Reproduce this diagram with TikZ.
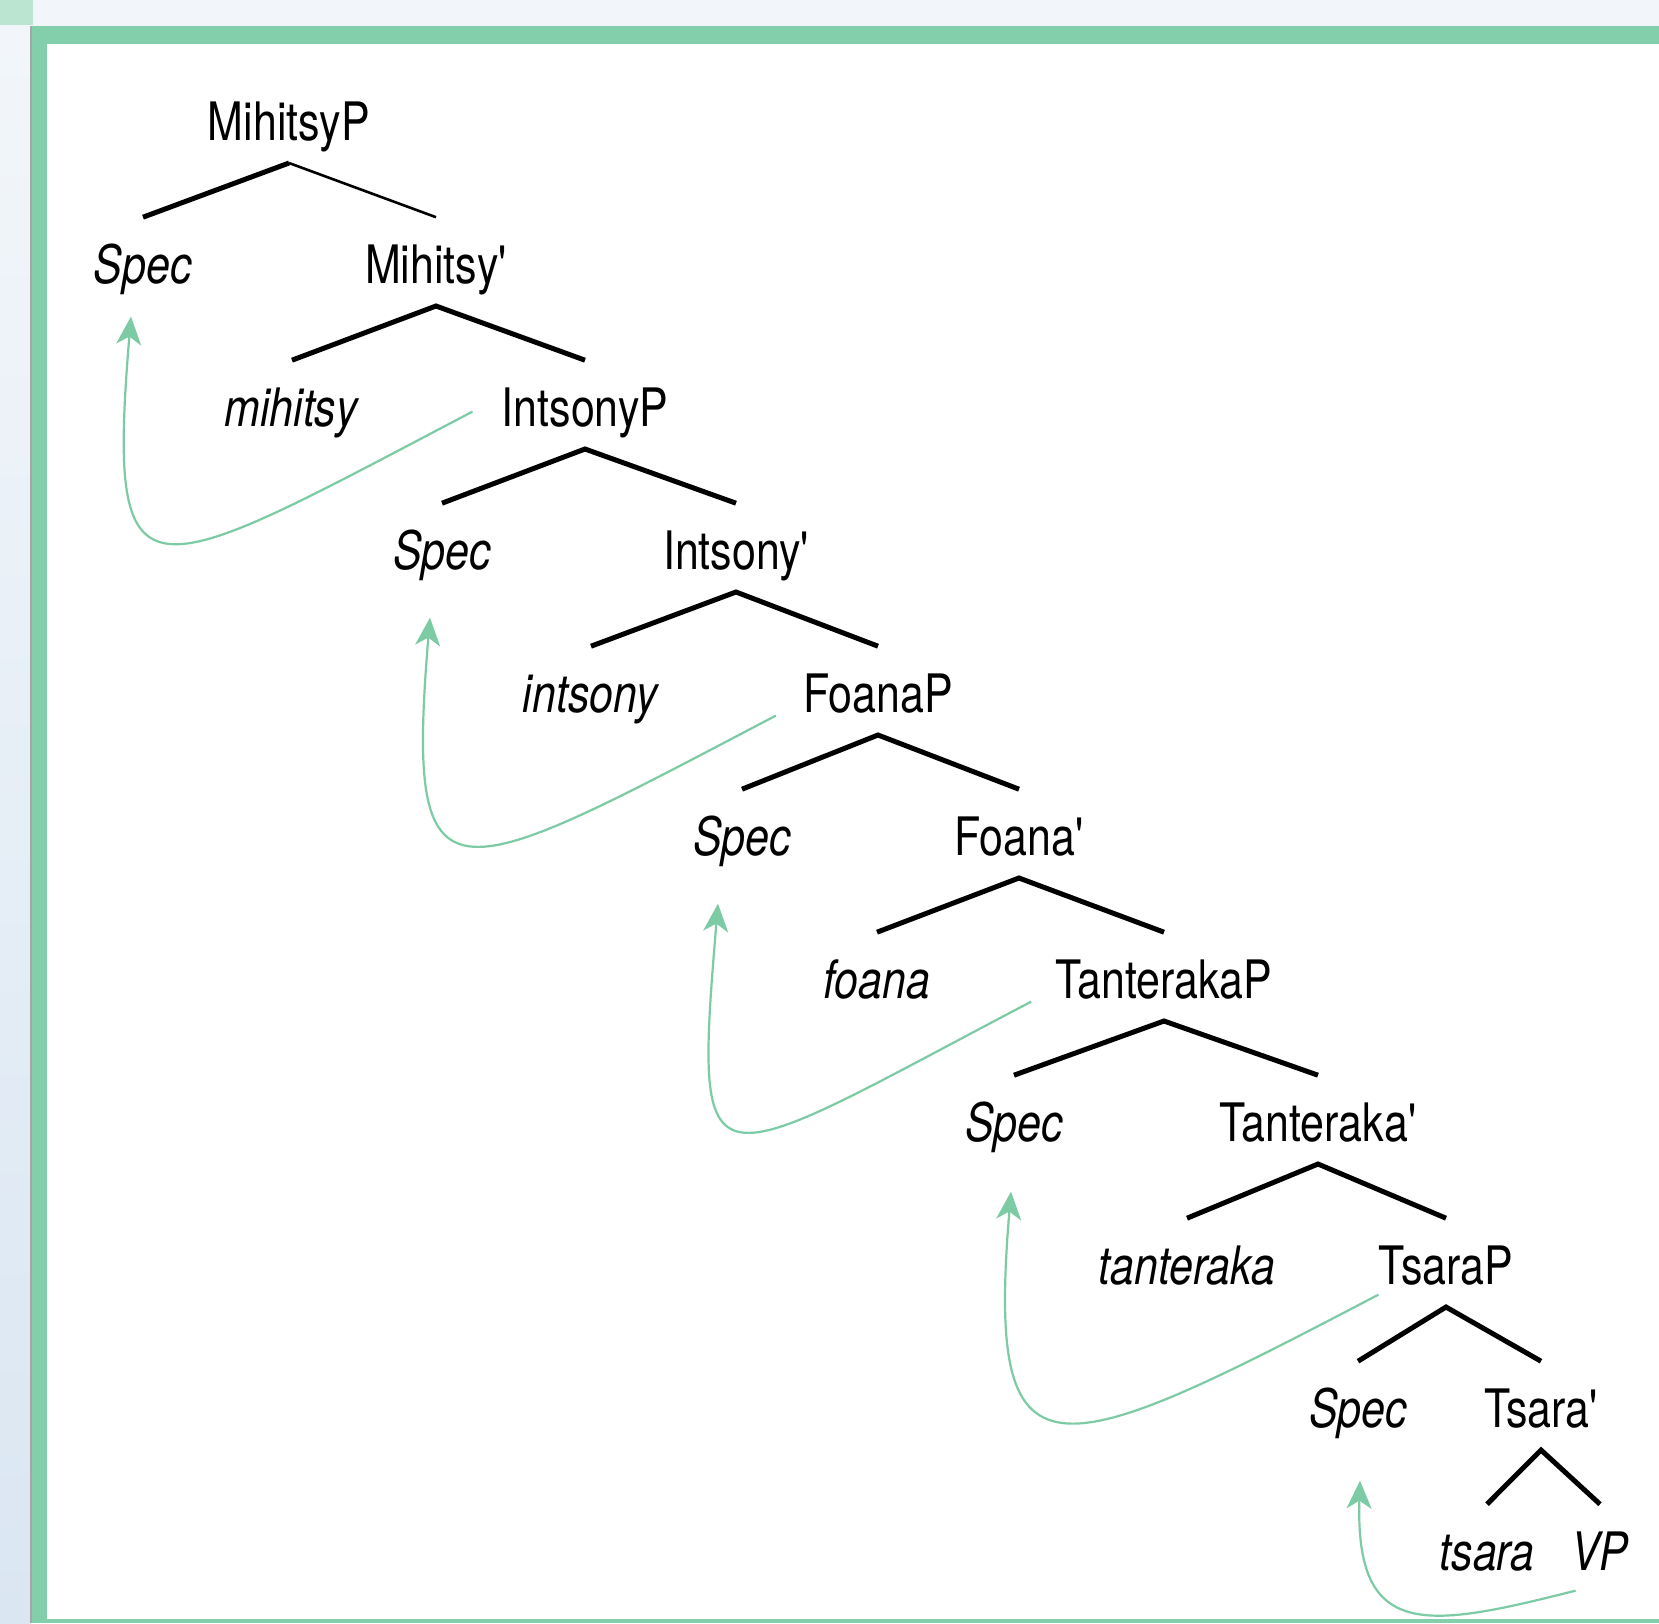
\documentclass[tikz,border=0pt]{standalone}
\usepackage{fontspec}
\usepackage{tikz}
\usetikzlibrary{arrows.meta}
\newfontfamily\treefont{TeX Gyre Heros}[FakeStretch=0.81]
\definecolor{framegreen}{HTML}{84CFAB}
\definecolor{movegreen}{HTML}{7DCBA5}
\definecolor{pagegrey}{HTML}{F2F6FA}
\definecolor{pageblue}{HTML}{DAE6F2}
\tikzset{
  label/.style={font=\treefont\fontsize{26.5pt}{30pt}\selectfont,
    text height=29pt,text depth=7pt,inner xsep=0pt,inner ysep=4pt},
  branch/.style={line width=2.5pt},
  move/.style={movegreen,line width=1.1pt,-{Stealth[length=14pt,width=12.5pt,inset=4pt]}}
}

\begin{document}
\begin{tikzpicture}[node distance=71.5pt]
      \useasboundingbox (0,0) rectangle (829.5pt,-811.5pt);
      \fill[pagegrey] (0,0) rectangle (829.5pt,-13pt);
      \shade[top color=pagegrey,bottom color=pageblue] (0,-13pt) rectangle (15.5pt,-811.5pt);
      \fill[framegreen!55] (0,0) rectangle (16.5pt,-12.5pt);
      \fill[framegreen] (15.5pt,-13pt) rectangle (829.5pt,-22pt);
      \fill[framegreen] (15.5pt,-13pt) rectangle (23.5pt,-811.5pt);
      \fill[framegreen] (23.5pt,-809.5pt) rectangle (829.5pt,-811.5pt);
      \fill[white] (23.5pt,-22pt) rectangle (829.5pt,-809.5pt);
      \draw[black!35,line width=0.6pt] (15.5pt,-13pt) -- (15.5pt,-811.5pt);

      \node [label] at (144.5pt,-59.3pt) (1) {MihitsyP};
      \node [label,below of=1,xshift=-73pt] (2) {\textit{Spec}};
      \node [label,below of=1,xshift=73.5pt] (3) {Mihitsy'};
      \node [label,below of=3,xshift=-72pt] (4) {\textit{mihitsy}};
      \node [label,below of=3,xshift=74.5pt] (5) {IntsonyP};
      \node [label,below of=5,xshift=-71.5pt] (6) {\textit{Spec}};
      \node [label,below of=5,xshift=75.5pt] (7) {Intsony'};
      \node [label,below of=7,xshift=-72.5pt] (8) {\textit{intsony}};
      \node [label,below of=7,xshift=71pt] (9) {FoanaP};
      \node [label,below of=9,xshift=-68pt] (10) {\textit{Spec}};
      \node [label,below of=9,xshift=70.5pt] (11) {Foana'};
      \node [label,below of=11,xshift=-71pt] (12) {\textit{foana}};
      \node [label,below of=11,xshift=72.5pt] (13) {TanterakaP};
      \node [label,below of=13,xshift=-75pt] (14) {\textit{Spec}};
      \node [label,below of=13,xshift=77pt] (15) {Tanteraka'};
      \node [label,below of=15,xshift=-65.5pt] (16) {\textit{tanteraka}};
      \node [label,below of=15,xshift=64pt] (17) {TsaraP};
      \node [label,below of=17,xshift=-44pt] (18) {\textit{Spec}};
      \node [label,below of=17,xshift=47.5pt] (19) {Tsara'};
      \node [label,below of=19,xshift=-27pt] (20) {\textit{tsara}};
      \node [label,below of=19,xshift=29.5pt] (21) {\textit{VP}};

      \draw[branch] (2.north) -- (1.south);
      \draw[line width=1.3pt] (1.south) -- (3.north);
      \draw[branch] (4.north) -- (3.south) -- (5.north);
      \draw[branch] (6.north) -- (5.south) -- (7.north);
      \draw[branch] (8.north) -- (7.south) -- (9.north);
      \draw[branch] (10.north) -- (9.south) -- (11.north);
      \draw[branch] (12.north) -- (11.south) -- (13.north);
      \draw[branch] (14.north) -- (13.south) -- (15.north);
      \draw[branch] (16.north) -- (15.south) -- (17.north);
      \draw[branch] (18.north) -- (17.south) -- (19.north);
      \draw[branch] (20.north) -- (19.south) -- (21.north);

      \draw[move] ([xshift=-14.5pt,yshift=7.5pt]5.base west) .. controls +(-165pt,-86.5pt) and +(-12.5pt,-150pt) .. ([xshift=-6pt,yshift=-16.5pt]2.base);
      \draw[move] ([xshift=-13.5pt,yshift=-1.5pt]9.base west) .. controls +(-165pt,-86.5pt) and +(-12.5pt,-150pt) .. ([xshift=-6pt,yshift=-24pt]6.base);
      \draw[move] ([xshift=-12pt,yshift=-1.5pt]13.base west) .. controls +(-165pt,-86.5pt) and +(-12.5pt,-150pt) .. ([xshift=-12pt,yshift=-24pt]10.base);
      \draw[move] ([yshift=-5pt]17.base west) .. controls +(-165pt,-86.5pt) and +(-12.5pt,-150pt) .. ([xshift=-1.5pt,yshift=-25pt]14.base);
      \draw[move] ([xshift=2.5pt,yshift=-10pt]21.base west) .. controls +(-75pt,-19pt) and +(-2.5pt,-80pt) .. ([xshift=1pt,yshift=-26.5pt]18.base);
    \end{tikzpicture}
\end{document}
